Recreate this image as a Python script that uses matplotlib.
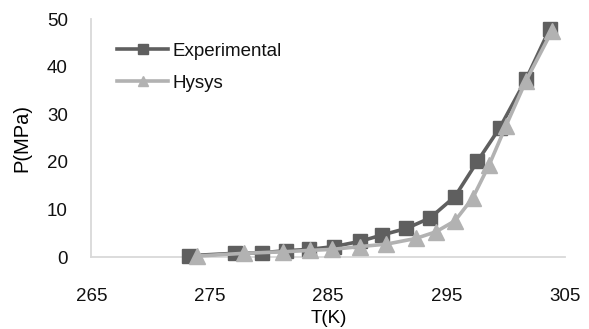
import matplotlib
matplotlib.use('Agg')
import matplotlib.pyplot as plt

# datos
t_exp = [273.2, 277.1, 279.4, 281.4, 283.4, 285.5, 287.7, 289.5, 291.6, 293.6, 295.7, 297.6, 299.5, 301.7, 303.7]
p_exp = [0.27, 0.78, 0.9, 1.33, 1.6, 2.2, 3.3, 4.6, 6.0, 8.2, 12.7, 20.1, 27.2, 37.3, 47.9]

t_hysys = [273.9, 277.9, 281.2, 283.5, 285.3, 287.7, 289.9, 292.4, 294.1, 295.7, 297.2, 298.6, 300.0, 301.7, 303.9]
p_hysys = [0.2, 0.78, 1.1, 1.4, 1.6, 2.2, 2.7, 3.9, 5.3, 7.6, 12.4, 19.4, 27.5, 37.0, 47.5]

x_ticks = [265, 275, 285, 295, 305]
y_ticks = [0, 10, 20, 30, 40, 50]

plt.rcParams['font.family'] = ['Liberation Sans', 'DejaVu Sans']
plt.rcParams['text.color'] = '#111111'
fs = 13.5

fig = plt.figure(figsize=(5.89, 3.29), dpi=100)
ax = fig.add_axes([0.1553, 0.2188, 0.804, 0.7234])

ax.plot(t_exp, p_exp, color='#5f5f5f', lw=2.6, marker='s', ms=10.5,
        label='Experimental', clip_on=False, zorder=3)
ax.plot(t_hysys, p_hysys, color='#b2b2b2', lw=2.6, marker='^', ms=11.5,
        label='Hysys', clip_on=False, zorder=4)

ax.set_xlim(265, 305)
ax.set_ylim(0, 50)
ax.set_xticks(x_ticks)
ax.set_yticks(y_ticks)
ax.tick_params(axis='both', length=0, labelsize=fs, labelcolor='#111111')
ax.tick_params(axis='x', pad=22)
ax.tick_params(axis='y', pad=17)

for s in ['top', 'right']:
    ax.spines[s].set_visible(False)
for s in ['left', 'bottom']:
    ax.spines[s].set_color('#d9d9d9')
    ax.spines[s].set_linewidth(1.3)

ax.set_xlabel('T(K)', fontsize=fs)
ax.set_ylabel('P(MPa)', fontsize=fs + 1)
ax.xaxis.set_label_coords(0.5016, -0.258)
ax.xaxis.label.set_va('center')
ax.yaxis.set_label_coords(-0.147, 0.5)
ax.yaxis.label.set_va('center')

ax.legend(loc='upper left', bbox_to_anchor=(0.035, 0.94), frameon=False,
          handlelength=2.7, handletextpad=0.25, labelspacing=0.8,
          markerscale=0.65, borderpad=0, fontsize=fs)

fig.savefig('out.png', dpi=100)
